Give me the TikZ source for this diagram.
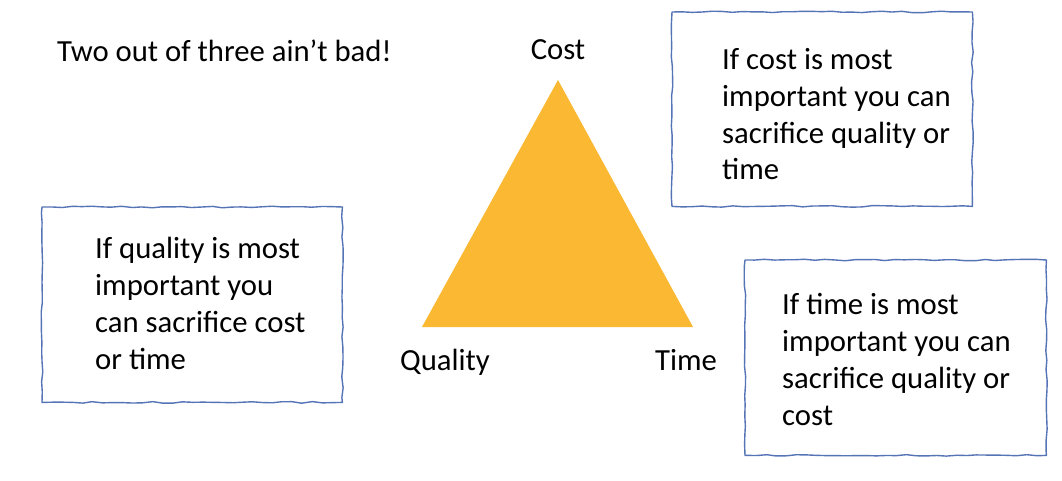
\documentclass[tikz,border=0pt]{standalone}
\usepackage{fontspec}
\setmainfont{Carlito}
\usetikzlibrary{decorations.pathmorphing}
\definecolor{boxblue}{HTML}{5574B6}
\definecolor{triorange}{HTML}{FBB832}
\begin{document}
\begin{tikzpicture}[x=1pt,y=-1pt,
  boxarea/.style={minimum width=300pt, inner sep=0pt, anchor=north west},
  wavyline/.style={draw=boxblue, line width=1.4pt, line join=round, decorate,
    decoration={random steps, segment length=10pt, amplitude=0.8pt}},
  bodytext/.style={font=\fontsize{30.7pt}{36.7pt}\selectfont, align=left, inner sep=0pt, anchor=base west},
  labeltext/.style={font=\fontsize{30.7pt}{36.7pt}\selectfont, inner sep=0pt, anchor=base}]
\useasboundingbox (0,0) rectangle (1062,481);
\fill[white] (0,0) rectangle (1062,481);
\pgfmathsetseed{7}
% boxes
\node[boxarea, minimum height=194pt] (boxcost) at (672,12) {};
\node[boxarea, minimum height=195pt] (boxquality) at (42,207) {};
\node[boxarea, minimum width=301pt, minimum height=195pt] (boxtime) at (745,260) {};
\draw[wavyline] (boxcost.north west) -- (boxcost.north east) -- (boxcost.south east) -- (boxcost.south west) -- cycle;
\draw[wavyline] (boxquality.north west) -- (boxquality.north east) -- (boxquality.south east) -- (boxquality.south west) -- cycle;
\draw[wavyline] (boxtime.north west) -- (boxtime.north east) -- (boxtime.south east) -- (boxtime.south west) -- cycle;
% base anchor of a multi-line node is the baseline of its last line
\node[bodytext] (tcost) at (722,180) {If cost is most\\important you can\\sacrifice quality or\\time};
\node[bodytext] (tquality) at (95,369) {If quality is most\\important you\\can sacrifice cost\\or time};
\node[bodytext] (ttime) at (782,425) {If time is most\\important you can\\sacrifice quality or\\cost};
% triangle
\coordinate (apex) at (558,80);
\coordinate (bl) at (422,327);
\coordinate (br) at (693,327);
\fill[triorange] (apex) -- (bl) -- (br) -- cycle;
% labels
\node[labeltext] (lcost) at (558,60) {Cost};
\node[labeltext] (lquality) at (445,370) {Quality};
\node[labeltext] (ltime) at (686,370) {Time};
\node[font=\fontsize{30.7pt}{36.7pt}\selectfont, inner sep=0pt, anchor=base west] (title) at (57,62) {Two out of three ain’t bad!};
\end{tikzpicture}
\end{document}
